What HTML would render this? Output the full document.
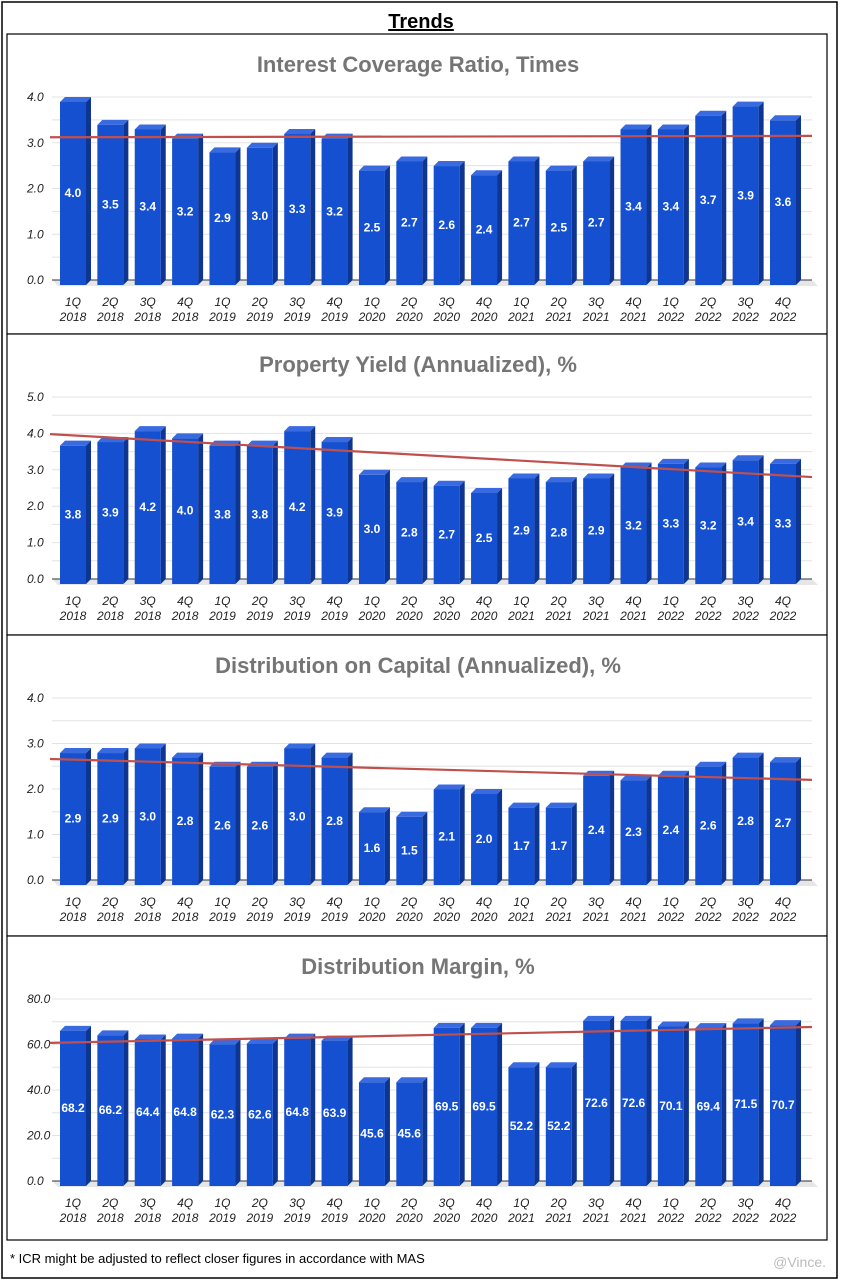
<!DOCTYPE html>
<html><head><meta charset="utf-8"><style>
body{margin:0;background:#fff;font-family:"Liberation Sans",sans-serif}
svg{display:block}
</style></head><body>
<svg id="s" width="841" height="1282">
<rect x="2" y="2" width="835" height="1276" fill="#fff" stroke="#000" stroke-width="1.5"/>
<text x="421" y="28" text-anchor="middle" font-size="20" font-weight="bold" text-decoration="underline">Trends</text>
<text x="10" y="1263" font-size="13">* ICR might be adjusted to reflect closer figures in accordance with MAS</text>
<text x="826" y="1267" text-anchor="end" font-size="14" fill="#bbb">@Vince.</text>
<text x="822" y="1232" text-anchor="end" font-size="10" fill="#ccc">Tiger Community</text>
</svg>
<script>
const categories=["1Q 2018","2Q 2018","3Q 2018","4Q 2018","1Q 2019","2Q 2019","3Q 2019","4Q 2019","1Q 2020","2Q 2020","3Q 2020","4Q 2020","1Q 2021","2Q 2021","3Q 2021","4Q 2021","1Q 2022","2Q 2022","3Q 2022","4Q 2022"];
const icrValues=[4.0,3.5,3.4,3.2,2.9,3.0,3.3,3.2,2.5,2.7,2.6,2.4,2.7,2.5,2.7,3.4,3.4,3.7,3.9,3.6];
const yieldValues=[3.8,3.9,4.2,4.0,3.8,3.8,4.2,3.9,3.0,2.8,2.7,2.5,2.9,2.8,2.9,3.2,3.3,3.2,3.4,3.3];
const docValues=[2.9,2.9,3.0,2.8,2.6,2.6,3.0,2.8,1.6,1.5,2.1,2.0,1.7,1.7,2.4,2.3,2.4,2.6,2.8,2.7];
const marginValues=[68.2,66.2,64.4,64.8,62.3,62.6,64.8,63.9,45.6,45.6,69.5,69.5,52.2,52.2,72.6,72.6,70.1,69.4,71.5,70.7];
const icrTicks=["0.0","1.0","2.0","3.0","4.0"];
const yieldTicks=["0.0","1.0","2.0","3.0","4.0","5.0"];
const docTicks=["0.0","1.0","2.0","3.0","4.0"];
const marginTicks=["0.0","20.0","40.0","60.0","80.0"];
const icrTrend=[3.12,3.15];
const yieldTrend=[3.98,2.8];
const docTrend=[2.66,2.2];
const marginTrend=[60.7,67.7];

const svg=document.getElementById('s');const NS='http://www.w3.org/2000/svg';
function mk(t,a,p){const e=document.createElementNS(NS,t);for(const k in a)e.setAttribute(k,a[k]);(p||svg).appendChild(e);return e;}
function chart(o){
  const g=mk('g',{});
  
  
  const pr=mk('rect',{x:7,y:o.top,width:820,height:o.h,fill:'#fff',stroke:'#000','stroke-width':1.2},g);
  
  
  const t=mk('text',{x:418,y:o.top+38,'text-anchor':'middle','font-size':22,'font-weight':'bold',fill:'#757575'},g);t.textContent=o.title;
  
  
  const y0=o.base,ymax=o.max,py=o.px;
  const Y=v=>y0-(v/ymax)*py;
  const n=o.values.length;const X=i=>73+i*((783-73)/(n-1));
  for(let v=0;v<=ymax+1e-9;v+=o.grid){
    const l=mk('line',{x1:52,x2:812,y1:Y(v),y2:Y(v),stroke:'#e3e3e3','stroke-width':1},g);
    
    
  }
  o.ticks.forEach(tk=>{
    const v=parseFloat(tk);
    const e=mk('text',{x:27,y:Y(v)+4,'font-size':12,'font-style':'italic',fill:'#222'},g);e.textContent=tk;
    
    
  });
  mk('polygon',{points:`52,${y0} 812,${y0} 818,${y0+6} 58,${y0+6}`,fill:'#e6e6e6'},g);
  const ax=mk('line',{x1:52,x2:812,y1:y0,y2:y0,stroke:'#333','stroke-width':1},g);
  
  
  o.values.forEach((v,i)=>{
    const cx=X(i),x=cx-13,w=26,d=5,top=Y(v)+d;
    const bg=mk('g',{},g);
    
    
    mk('polygon',{points:`${x+w},${top} ${x+w+d},${top-d} ${x+w+d},${y0+5-d} ${x+w},${y0+5}`,fill:'#0e3590'},bg);
    mk('polygon',{points:`${x},${top} ${x+d},${top-d} ${x+w+d},${top-d} ${x+w},${top}`,fill:'#3a6ae0'},bg);
    mk('rect',{x:x,y:top,width:w,height:y0+5-top,fill:'#1550d0'},bg);
    const lb=mk('text',{x:cx,y:(top+y0)/2+6,'text-anchor':'middle','font-size':12,'font-weight':'bold',fill:'#fff'},bg);lb.textContent=v.toFixed(1);
    
    
    const [q,yr]=o.cats[i].split(' ');
    const a=mk('text',{x:cx,y:y0+26,'text-anchor':'middle','font-size':12,'font-style':'italic',fill:'#222'},g);a.textContent=q;
    
    
    const b=mk('text',{x:cx,y:y0+41,'text-anchor':'middle','font-size':12,'font-style':'italic',fill:'#222'},g);b.textContent=yr;
    
    
  });
  const tl=mk('line',{x1:50,x2:812,y1:Y(o.trend[0]),y2:Y(o.trend[1]),stroke:'#c0504d','stroke-width':2.2},g);
  
  
}
chart({name:'icr',title:'Interest Coverage Ratio, Times',top:34,h:300,base:280,max:4,px:183,grid:0.5,ticks:icrTicks,values:icrValues,cats:categories,trend:icrTrend});
chart({name:'yield',title:'Property Yield (Annualized), %',top:334,h:301,base:579,max:5,px:182,grid:0.5,ticks:yieldTicks,values:yieldValues,cats:categories,trend:yieldTrend});
chart({name:'doc',title:'Distribution on Capital (Annualized), %',top:635,h:301,base:880,max:4,px:182,grid:0.5,ticks:docTicks,values:docValues,cats:categories,trend:docTrend});
chart({name:'margin',title:'Distribution Margin, %',top:936,h:304,base:1181,max:80,px:182,grid:10,ticks:marginTicks,values:marginValues,cats:categories,trend:marginTrend});
</script>
</body></html>
